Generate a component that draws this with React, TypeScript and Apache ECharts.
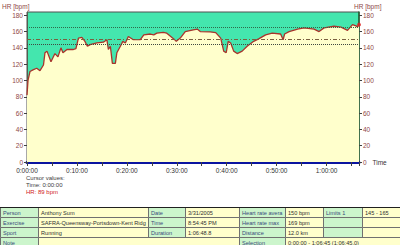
import React, { useEffect, useRef } from "react";
import * as echarts from "echarts";

// Time in minutes from start, and heart rate in bpm
const timeMin = [0, 0.2, 0.6, 1.2, 1.95, 2.6, 3.3, 3.6, 4.0, 4.8, 5.6, 6.2, 6.8, 7.2, 8.0, 9.3, 9.8, 10.3, 11.0, 11.6, 12.1, 12.65, 14.0, 15.3, 16.0, 16.3, 16.7, 17.1, 17.7, 18.0, 18.7, 19.2, 19.7, 20.3, 21.3, 22.7, 23.4, 24.7, 25.4, 26.0, 27.3, 28.0, 29.4, 29.9, 30.7, 31.7, 33.3, 34.1, 34.7, 36.7, 37.8, 38.8, 39.4, 39.9, 40.3, 40.8, 41.4, 42.1, 43.1, 44.1, 45.4, 46.4, 47.8, 49.1, 50.8, 51.3, 51.6, 52.5, 54.2, 55.5, 57.5, 58.5, 59.5, 61.5, 62.9, 64.2, 65.2, 65.9, 66.2, 66.5];
const heartRate = [82, 100, 111, 113, 115, 112, 119, 134, 136, 123, 133, 129, 140, 134, 138, 138, 139, 152, 153, 148, 142, 144, 146, 147, 150, 138, 142, 121, 121, 134, 142, 148, 146, 154, 150, 150, 156, 157, 156, 158, 159, 158, 151, 148, 152, 160, 162, 163, 160, 159.5, 158.7, 152, 136, 134, 148, 146, 136, 133, 136, 142, 148, 151, 156, 158, 157, 150, 157, 160, 163, 164.5, 163, 160, 164.5, 166.5, 165.5, 161.5, 168.5, 167, 165.7, 168.5];

const limitLines = [165, 150, 145];
const xTickMinutes = [0, 10, 20, 30, 40, 50, 60];

const cursorLines = ["Cursor values:", "Time: 0:00:00", "HR: 89 bpm"];

const tableCols = [0, 38, 148, 185, 239, 285, 323, 362, 400];
const tableRowTop = [207, 217, 227, 237];
const tableRow1 = ["Person", "Anthony Sum", "Date", "3/31/2005", "Heart rate average", "150 bpm", "Limits 1", "145 - 165"];
const tableRow2 = ["Exercise", "SAFRA-Queensway-Portsdown-Kent Ridge", "Time", "8:54:45 PM", "Heart rate max", "169 bpm", "", ""];
const tableRow3 = ["Sport", "Running", "Duration", "1:06:48.8", "Distance", "12.0 km", "", ""];
const tableRow4 = ["Note", "", "Selection", "0:00:00 - 1:06:45 (1:06:45.0)"];
const tableRow4Spans = [[0, 1], [1, 4], [4, 5], [5, 8]];

const FONT = "Liberation Sans";
const GREEN_CELL = "#CCF5CC";
const YELLOW_CELL = "#FFFFCC";

function fmtTime(v: number) {
  const h = Math.floor(v / 60);
  const m = Math.round(v % 60);
  return `${h}:${String(m).padStart(2, "0")}:00`;
}

function buildTable() {
  const els: any[] = [];
  const rowH = 10;
  const cell = (x0: number, x1: number, y: number, text: string, green: boolean) => {
    els.push({
      type: "rect",
      shape: { x: x0 + 0.5, y: y + 0.5, width: x1 - x0, height: rowH },
      style: { fill: green ? GREEN_CELL : YELLOW_CELL, stroke: "#707070", lineWidth: 1 },
      silent: true,
    });
    if (text) {
      els.push({
        type: "text",
        x: x0 + 3,
        y: y + rowH / 2 + 1,
        style: {
          text,
          fill: green ? "#3A4A7A" : "#303030",
          font: `5.6px "${FONT}"`,
          verticalAlign: "middle",
          width: x1 - x0 - 3,
          overflow: "truncate",
          ellipsis: "",
        },
        silent: true,
      });
    }
  };
  [tableRow1, tableRow2, tableRow3].forEach((row, r) => {
    row.forEach((t, c) => cell(tableCols[c], tableCols[c + 1], tableRowTop[r], t, c % 2 === 0));
  });
  tableRow4.forEach((t, i) => {
    const [a, b] = tableRow4Spans[i];
    cell(tableCols[a], tableCols[b], tableRowTop[3], t, a % 2 === 0 && b - a === 1);
  });
  els.push({
    type: "line",
    shape: { x1: 0, y1: tableRowTop[0] + 0.5, x2: 400, y2: tableRowTop[0] + 0.5 },
    style: { stroke: "#202020", lineWidth: 1 },
    silent: true,
  });
  return els;
}

export default function App() {
  const ref = useRef<HTMLDivElement>(null);
  useEffect(() => {
    document.body.style.margin = "0";
    if (!ref.current) return;
    const chart = echarts.init(ref.current, null, { renderer: "svg" });
    const data = timeMin.map((t, i) => [t, heartRate[i]]);
    const last = data[data.length - 1];
    const axisLabelColor = "#8E4747";
    const yAxisCommon = {
      type: "value",
      min: 0,
      max: 184,
      interval: 20,
      splitLine: { show: false },
      axisTick: { show: true, length: 3, lineStyle: { color: "#404040" } },
      axisLabel: { color: axisLabelColor, fontSize: 6.5, fontFamily: FONT, margin: 4, showMaxLabel: false },
    };
    chart.setOption({
      animation: false,
      backgroundColor: "#ffffff",
      grid: {
        left: 27,
        right: 41,
        top: 12,
        bottom: 83,
        show: true,
        backgroundColor: "#44E6AE",
        borderColor: "#505050",
        borderWidth: 1,
      },
      xAxis: {
        type: "value",
        min: 0,
        max: 66.5,
        interval: 10,
        name: "Time",
        nameLocation: "end",
        nameGap: 9,
        nameTextStyle: { color: "#333", fontSize: 6.5, fontFamily: FONT, padding: [5, 0, 0, 0] },
        axisLine: { show: true, onZero: false, lineStyle: { color: "#0A14A0", width: 3 } },
        axisTick: { show: true, length: 4, lineStyle: { color: "#404040" } },
        minorTick: { show: true, splitNumber: 2, length: 4, lineStyle: { color: "#404040" } },
        splitLine: { show: false },
        axisLabel: {
          color: "#333",
          fontSize: 6.5,
          fontFamily: FONT,
          margin: 5,
          showMaxLabel: false,
          formatter: (v: number) => (xTickMinutes.includes(Math.round(v)) ? fmtTime(v) : ""),
        },
      },
      yAxis: [
        {
          ...yAxisCommon,
          position: "left",
          axisLine: { show: true, lineStyle: { color: "#506050" } },
        },
        {
          ...yAxisCommon,
          position: "right",
          axisLine: { show: true, lineStyle: { color: "#1F5F2F", width: 1.5 } },
        },
      ],
      series: [
        {
          type: "line",
          data,
          showSymbol: false,
          lineStyle: { color: "#A8342C", width: 1.3 },
          itemStyle: { color: "#A8342C" },
          areaStyle: { color: YELLOW_CELL, opacity: 1, origin: "start" },
          z: 3,
          markLine: {
            silent: true,
            symbol: "none",
            label: { show: false },
            data: [
              { yAxis: limitLines[0], lineStyle: { color: "#2E6B4A", type: "dotted", width: 1 } },
              { yAxis: limitLines[1], lineStyle: { color: "#7A6040", type: [4, 2, 1, 2], width: 1 } },
              { yAxis: limitLines[2], lineStyle: { color: "#404840", type: "dotted", width: 1 } },
            ],
          },
        },
        {
          type: "scatter",
          data: [last],
          symbolSize: 4,
          itemStyle: { color: "#E02020" },
          z: 5,
        },
      ],
      graphic: [
        {
          type: "text",
          x: 2,
          y: 6,
          style: { text: "HR [bpm]", fill: axisLabelColor, font: `6.5px "${FONT}"`, verticalAlign: "middle" },
        },
        {
          type: "text",
          x: 354,
          y: 6,
          style: { text: "HR [bpm]", fill: axisLabelColor, font: `6.5px "${FONT}"`, verticalAlign: "middle" },
        },
        {
          type: "text",
          x: 182,
          y: 156,
          style: { text: "150 bpm", fill: "#303030", font: `6.5px "${FONT}"`, verticalAlign: "middle" },
        },
        ...cursorLines.map((t, i) => ({
          type: "text",
          x: 26,
          y: 177.5 + i * 7,
          style: {
            text: t,
            fill: i === 2 ? "#D02020" : "#404040",
            font: `6px "${FONT}"`,
            verticalAlign: "middle",
          },
        })),
        ...buildTable(),
      ],
    });
    return () => chart.dispose();
  }, []);
  return <div ref={ref} style={{ width: 400, height: 245 }} />;
}
